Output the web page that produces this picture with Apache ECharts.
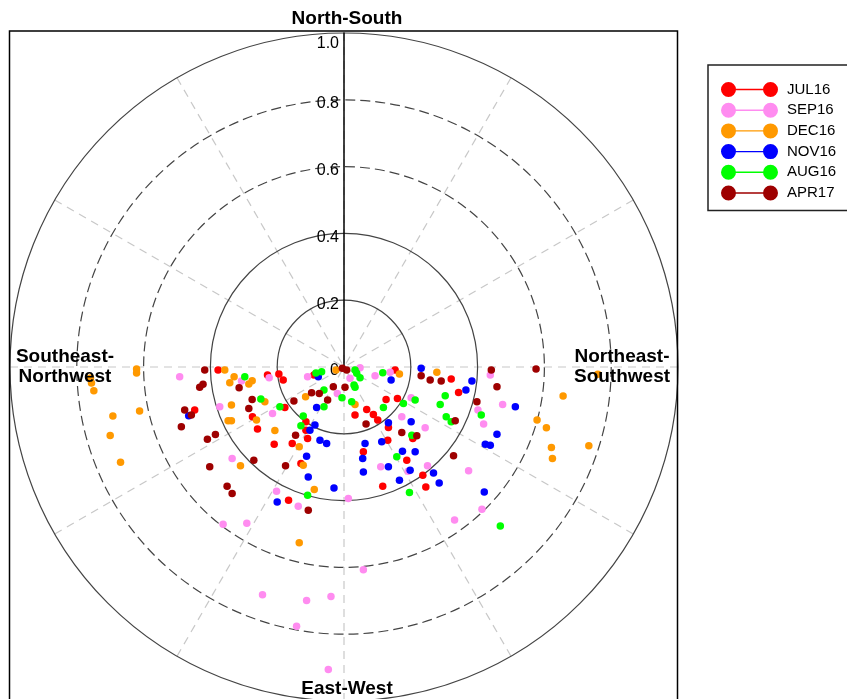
<!DOCTYPE html>
<html>
<head>
<meta charset="utf-8">
<script src="https://cdn.jsdelivr.net/npm/echarts@6/dist/echarts.min.js"></script>
<style>
html,body{margin:0;padding:0;background:#fff;}
#chart{width:847px;height:699px;}
</style>
</head>
<body>
<div id="chart"></div>
<script>
// ---- Data (east/north components, in radius units) ----
const seriesNames = ['JUL16', 'SEP16', 'DEC16', 'NOV16', 'AUG16', 'APR17'];
const seriesColors = ['#ff0000', '#ff8cf0', '#ff9900', '#0000ff', '#00ff00', '#9e0000'];
const radiusTicks = ['0', '0.2', '0.4', '0.6', '0.8', '1.0'];
const directionLabels = ['North-South', 'East-West', 'Southeast-\nNorthwest', 'Northeast-\nSouthwest'];

const jul16East  = [-0.377,-0.229,-0.195,-0.182,-0.090,-0.447,-0.274,-0.177,-0.259,-0.114,-0.114,-0.109,-0.209,-0.155,-0.129,-0.166,0.153,0.321,0.343,0.126,0.160,0.068,0.088,0.033,0.101,0.133,0.206,0.131,0.058,0.188,0.236,0.116,0.245];
const jul16North = [-0.009,-0.024,-0.021,-0.039,-0.024,-0.129,-0.149,-0.121,-0.186,-0.164,-0.189,-0.214,-0.231,-0.229,-0.289,-0.399,-0.009,-0.036,-0.076,-0.097,-0.094,-0.127,-0.142,-0.144,-0.159,-0.181,-0.214,-0.219,-0.254,-0.279,-0.324,-0.357,-0.359];

const sep16East  = [-0.492,-0.307,-0.224,-0.109,-0.020,-0.372,-0.214,-0.335,-0.202,-0.137,-0.362,-0.291,0.048,0.018,0.093,0.138,0.438,0.401,0.418,0.475,0.201,0.173,0.243,0.110,0.250,0.373,0.013,0.413,0.331,-0.244,-0.112,-0.039,-0.142,-0.047,0.058,0.192];
const sep16North = [-0.029,-0.042,-0.032,-0.029,-0.079,-0.119,-0.139,-0.274,-0.372,-0.417,-0.471,-0.468,-0.002,-0.034,-0.026,-0.016,-0.024,-0.129,-0.171,-0.112,-0.092,-0.149,-0.182,-0.299,-0.296,-0.311,-0.394,-0.426,-0.458,-0.682,-0.699,-0.687,-0.776,-0.906,-0.607,-0.312];

const dec16East  = [-0.621,-0.621,-0.759,-0.756,-0.749,-0.692,-0.612,-0.700,-0.669,-0.357,-0.329,-0.342,-0.275,-0.285,-0.024,-0.115,-0.237,-0.337,-0.262,-0.347,-0.337,-0.207,-0.134,-0.310,-0.122,-0.089,0.033,0.166,0.278,0.760,0.656,0.578,0.606,0.621,0.624,0.733,-0.134];
const dec16North = [-0.006,-0.018,-0.033,-0.048,-0.071,-0.147,-0.132,-0.205,-0.285,-0.009,-0.029,-0.047,-0.041,-0.051,-0.009,-0.089,-0.104,-0.114,-0.159,-0.161,-0.161,-0.190,-0.239,-0.296,-0.294,-0.367,-0.112,-0.021,-0.016,-0.022,-0.087,-0.159,-0.182,-0.241,-0.274,-0.236,-0.526];

const nov16East  = [-0.077,-0.082,-0.465,-0.087,-0.102,-0.072,-0.052,-0.112,-0.107,-0.200,-0.030,0.141,0.231,0.383,0.365,0.133,0.201,0.458,0.063,0.113,0.056,0.423,0.438,0.175,0.213,0.133,0.198,0.268,0.058,0.166,0.285,0.420,0.513];
const nov16North = [-0.029,-0.121,-0.146,-0.174,-0.189,-0.219,-0.229,-0.267,-0.329,-0.404,-0.362,-0.039,-0.004,-0.042,-0.069,-0.167,-0.164,-0.201,-0.229,-0.224,-0.274,-0.231,-0.234,-0.252,-0.254,-0.299,-0.309,-0.317,-0.314,-0.339,-0.347,-0.374,-0.119];

const aug16East  = [-0.297,-0.067,-0.084,-0.060,-0.006,-0.060,-0.249,-0.192,-0.122,-0.129,-0.109,0.033,0.038,0.048,0.030,0.033,0.023,0.116,0.303,0.288,0.411,0.178,0.213,0.118,0.306,0.321,0.203,0.158,0.196,0.468];
const aug16North = [-0.029,-0.014,-0.018,-0.069,-0.092,-0.119,-0.096,-0.119,-0.147,-0.176,-0.384,-0.009,-0.019,-0.032,-0.054,-0.061,-0.104,-0.017,-0.086,-0.112,-0.144,-0.109,-0.099,-0.121,-0.149,-0.164,-0.204,-0.269,-0.376,-0.476];

const apr17East  = [-0.417,-0.422,-0.432,-0.314,-0.097,-0.074,-0.049,-0.032,-0.005,0.008,-0.150,-0.275,-0.477,-0.457,-0.285,-0.487,-0.145,-0.385,-0.409,-0.270,-0.402,-0.175,-0.350,-0.335,-0.107,0.003,0.231,0.258,0.291,0.441,0.458,0.398,0.333,0.066,0.173,0.218,0.328,0.575];
const apr17North = [-0.009,-0.052,-0.061,-0.062,-0.077,-0.079,-0.099,-0.059,-0.004,-0.009,-0.102,-0.097,-0.129,-0.144,-0.124,-0.179,-0.204,-0.202,-0.216,-0.279,-0.299,-0.296,-0.357,-0.379,-0.429,-0.061,-0.026,-0.039,-0.042,-0.009,-0.059,-0.104,-0.161,-0.171,-0.196,-0.206,-0.266,-0.006];

const seriesEast  = [jul16East, sep16East, dec16East, nov16East, aug16East, apr17East];
const seriesNorth = [jul16North, sep16North, dec16North, nov16North, aug16North, apr17North];

// convert components to [radius, bearing(deg, clockwise from north)]
function toPolar(east, north) {
  return east.map(function (u, i) {
    const v = north[i];
    const r = Math.sqrt(u * u + v * v);
    let a = Math.atan2(u, v) * 180 / Math.PI;
    if (a < 0) a += 360;
    return [r, a];
  });
}

const FONT = '"Liberation Sans", Arial, Helvetica, sans-serif';
const T = 'rgba(0,0,0,0)';
const CX = 344, CY = 367, R = 334;

const chart = echarts.init(document.getElementById('chart'), null, {renderer: 'canvas'});

const legendIcon = 'path://M7.5,0A7.5,7.5,0,1,1,7.5,15A7.5,7.5,0,1,1,7.5,0ZM49.5,0A7.5,7.5,0,1,1,49.5,15A7.5,7.5,0,1,1,49.5,0ZM7.5,6.8L49.5,6.8L49.5,8.2L7.5,8.2Z';

const option = {
  animation: false,
  backgroundColor: '#fff',
  polar: [
    {center: [CX, CY], radius: R},
    {center: [CX, CY], radius: R}
  ],
  angleAxis: [
    {
      polarIndex: 0, type: 'value', min: 0, max: 360, interval: 30,
      startAngle: 90, clockwise: true,
      axisLine: {show: false}, axisTick: {show: false}, axisLabel: {show: false},
      splitLine: {show: true, lineStyle: {color: '#c8c8c8', width: 1.2, type: [8, 6]}}
    },
    {
      polarIndex: 1, type: 'value', min: 0, max: 360, interval: 30,
      startAngle: 90, clockwise: true,
      axisLine: {show: false}, axisTick: {show: false}, axisLabel: {show: false},
      splitLine: {show: false}
    }
  ],
  radiusAxis: [
    {
      polarIndex: 0, type: 'value', min: 0, max: 1, interval: 0.2,
      axisLine: {show: true, lineStyle: {color: '#000', width: 1.5}},
      axisTick: {show: false},
      axisLabel: {
        show: true, margin: 5, showMinLabel: true, showMaxLabel: true,
        color: '#000', fontSize: 16, fontFamily: FONT,
        formatter: function (value) {
          const idx = Math.round(value / 0.2);
          return (idx === 5 ? '{top|' : '{n|') + radiusTicks[idx] + '}';
        },
        rich: {
          n: {padding: [8, 0, 0, 0], fontSize: 16, fontFamily: FONT, color: '#000'},
          top: {padding: [22, 0, 0, 0], fontSize: 16, fontFamily: FONT, color: '#000'}
        }
      },
      splitLine: {show: true, lineStyle: {color: [T, '#444', '#444', T, T, '#444'], width: 1.2, type: 'solid'}},
      z: 3
    },
    {
      polarIndex: 1, type: 'value', min: 0, max: 1, interval: 0.2,
      axisLine: {show: false}, axisTick: {show: false}, axisLabel: {show: false},
      splitLine: {show: true, lineStyle: {color: [T, T, T, '#444', '#444', T], width: 1.2, type: [10, 5]}}
    }
  ],
  legend: {
    orient: 'vertical',
    left: 708, top: 65,
    padding: [17, 30, 10, 13],
    borderColor: '#222', borderWidth: 1.5,
    itemWidth: 57, itemHeight: 15, itemGap: 5.7,
    icon: legendIcon,
    textStyle: {fontSize: 15, color: '#000', fontFamily: FONT, padding: [0, 0, 0, 4]},
    data: seriesNames
  },
  graphic: [
    {type: 'rect', silent: true, z: 10,
      shape: {x: 9.5, y: 31, width: 668, height: 720},
      style: {fill: 'none', stroke: '#000', lineWidth: 1.5}},
    {type: 'text', silent: true, z: 11, x: 347, y: 19,
      style: {text: directionLabels[0], font: 'bold 19px ' + FONT, fill: '#000', align: 'center', verticalAlign: 'middle'}},
    {type: 'text', silent: true, z: 11, x: 347, y: 689,
      style: {text: directionLabels[1], font: 'bold 19px ' + FONT, fill: '#000', align: 'center', verticalAlign: 'middle'}},
    {type: 'text', silent: true, z: 11, x: 65, y: 367,
      style: {text: directionLabels[2], font: 'bold 19px ' + FONT, fill: '#000', align: 'center', verticalAlign: 'middle', lineHeight: 20}},
    {type: 'text', silent: true, z: 11, x: 622, y: 367,
      style: {text: directionLabels[3], font: 'bold 19px ' + FONT, fill: '#000', align: 'center', verticalAlign: 'middle', lineHeight: 20}}
  ],
  series: seriesNames.map(function (name, i) {
    return {
      name: name,
      type: 'scatter',
      coordinateSystem: 'polar',
      polarIndex: 0,
      symbol: 'circle',
      symbolSize: 7.5,
      itemStyle: {color: seriesColors[i], opacity: 1},
      emphasis: {disabled: true},
      data: toPolar(seriesEast[i], seriesNorth[i]),
      z: 5
    };
  })
};

chart.setOption(option);
</script>
</body>
</html>
